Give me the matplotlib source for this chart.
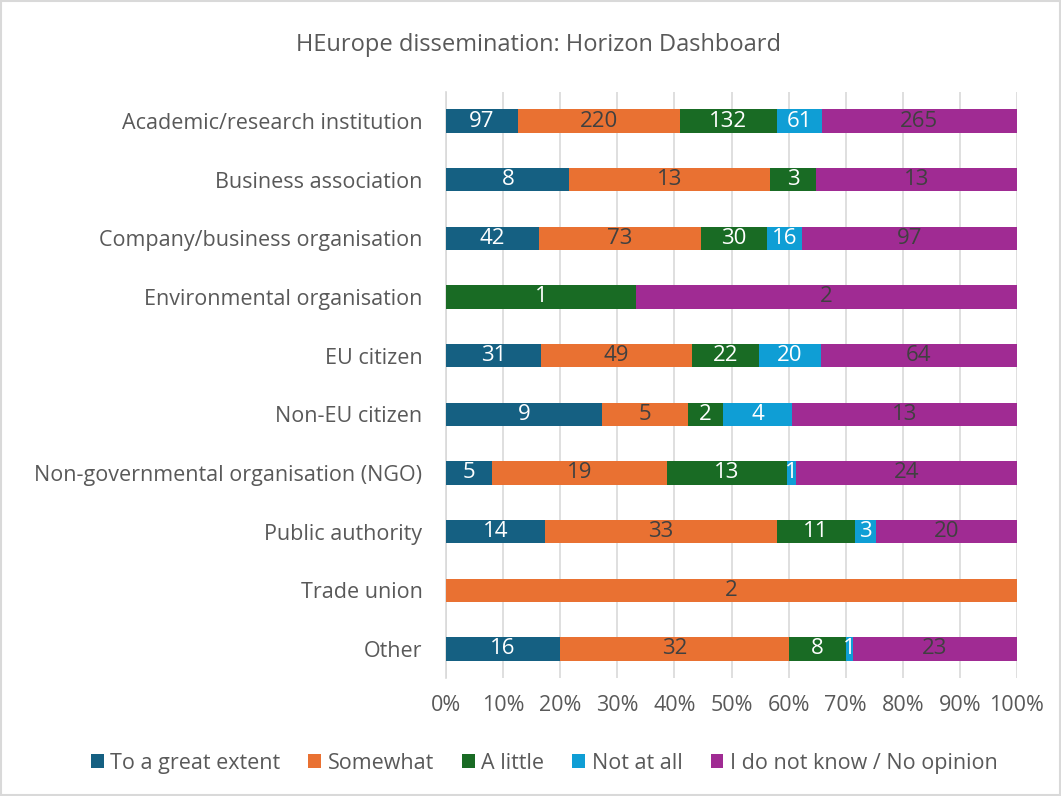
import matplotlib.pyplot as plt
import numpy as np
from matplotlib.patches import Rectangle

plt.rcParams['font.family'] = ['Open Sans', 'DejaVu Sans']

# Data
categories = ['Academic/research institution', 'Business association',
              'Company/business organisation', 'Environmental organisation',
              'EU citizen', 'Non-EU citizen', 'Non-governmental organisation (NGO)',
              'Public authority', 'Trade union', 'Other']
series_names = ['To a great extent', 'Somewhat', 'A little', 'Not at all',
                'I do not know / No opinion']
great_extent = [97, 8, 42, 0, 31, 9, 5, 14, 0, 16]
somewhat = [220, 13, 73, 0, 49, 5, 19, 33, 2, 32]
a_little = [132, 3, 30, 1, 22, 2, 13, 11, 0, 8]
not_at_all = [61, 0, 16, 0, 20, 4, 1, 3, 0, 1]
no_opinion = [265, 13, 97, 2, 64, 13, 24, 20, 0, 23]

colors = ['#156082', '#E97132', '#196B24', '#0F9ED5', '#A02B93']
label_colors = ['white', '#404040', 'white', 'white', '#404040']

values = np.array([great_extent, somewhat, a_little, not_at_all, no_opinion], dtype=float)
totals = values.sum(axis=0)
shares = values / totals

fig = plt.figure(figsize=(10.61, 7.96), dpi=100)
ax = fig.add_axes([0.4204, 0.1479, 0.5381, 0.7369])

y = np.arange(len(categories))
left = np.zeros(len(categories))
for i, name in enumerate(series_names):
    bars = ax.barh(y, shares[i], left=left, height=0.4, color=colors[i],
                   label=name, zorder=3)
    for j, b in enumerate(bars):
        if values[i, j] > 0:
            ax.text(left[j] + shares[i, j] / 2, y[j], f'{int(values[i, j])}',
                    ha='center', va='center', color=label_colors[i],
                    fontsize=16, zorder=4)
    left += shares[i]

ax.set_ylim(len(categories) - 0.5, -0.5)
ax.set_xlim(0, 1)
ax.set_xticks(np.linspace(0, 1, 11))
ax.set_xticklabels([f'{int(t)}%' for t in np.linspace(0, 100, 11)])
ax.set_yticks(y)
ax.set_yticklabels(categories)
ax.tick_params(axis='both', length=0, labelsize=15.5, labelcolor='#595959')
ax.tick_params(axis='x', pad=12)
ax.tick_params(axis='y', pad=17)
ax.grid(axis='x', color='#D9D9D9', linewidth=1.2, zorder=0)
for s in ['top', 'right', 'bottom']:
    ax.spines[s].set_visible(False)
ax.spines['left'].set_color('#D9D9D9')
ax.spines['left'].set_linewidth(1.2)

fig.text(0.508, 0.944, 'HEurope dissemination: Horizon Dashboard', ha='center',
         va='center', fontsize=17, color='#595959')

handles, labels = ax.get_legend_handles_labels()
fig.legend(handles, labels, loc='center', bbox_to_anchor=(0.513, 0.041), ncol=5,
           frameon=False, fontsize=15.5, labelcolor='#595959', handlelength=0.6,
           handleheight=0.6, handletextpad=0.3, columnspacing=1.3)

fig.patches.append(Rectangle((0.001, 0.001), 0.998, 0.998, transform=fig.transFigure,
                             fill=False, edgecolor='#D9D9D9', linewidth=1.5))

fig.savefig('out.png', dpi=100)
